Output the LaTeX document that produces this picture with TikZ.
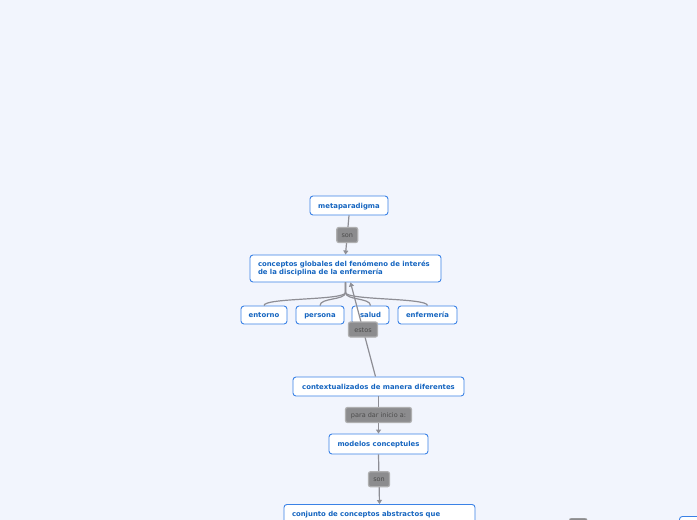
\documentclass[tikz,border=0pt]{standalone}
\usepackage{fontspec}
\setmainfont{DejaVu Sans}
\usetikzlibrary{arrows.meta}
\definecolor{bgblue}{HTML}{F2F5FD}
\definecolor{boxblue}{HTML}{3B82E6}
\definecolor{txtblue}{HTML}{1565C0}
\definecolor{lblgray}{HTML}{8C8C8E}
\definecolor{lnkgray}{HTML}{8E8E95}

\begin{document}
\begin{tikzpicture}[x=1pt,y=-1pt,
  topic/.style={draw=boxblue,fill=white,rounded corners=3pt,line width=0.9pt,text=txtblue,
    font=\fontsize{6.9}{8.2}\selectfont\bfseries,inner sep=0pt},
  leaf/.style={topic,text height=6pt,text depth=1pt},
  tag/.style={fill=lblgray,draw=lblgray!70,rounded corners=2pt,text=black!70,
    font=\fontsize{6.5}{7.5}\selectfont,inner sep=0pt,minimum height=15,text height=6pt,text depth=1pt},
  link/.style={draw=lnkgray,line width=1.2pt},
  arr/.style={link,-{Triangle[width=5pt,length=4pt]}}]
\fill[bgblue] (0,0) rectangle (697,520);
\clip (0,0) rectangle (697,520);

% main column
\node[leaf,minimum width=78,minimum height=19] (meta) at (349,205.5) {metaparadigma};
\node[topic,minimum width=191,minimum height=27,text width=175,align=left] (concept) at (345.5,268.5)
  {conceptos globales del fenómeno de interés\\de la disciplina de la enfermería};
\node[leaf,minimum width=171,minimum height=19] (context) at (378.5,386.5) {contextualizados de manera diferentes};
\node[leaf,minimum width=99,minimum height=20] (models) at (378.5,444) {modelos conceptules};
\node[topic,anchor=north,minimum width=191,minimum height=40,text width=175,align=left,text depth=22] (set) at (379.5,504)
  {conjunto de conceptos abstractos que};

% the four concepts
\node[leaf,minimum width=46,minimum height=18] (env) at (264,315) {entorno};
\node[leaf,minimum width=48,minimum height=18] (person) at (320,315) {persona};
\node[leaf,minimum width=37,minimum height=18] (health) at (370.5,315) {salud};
\node[leaf,minimum width=59,minimum height=18] (nursing) at (427.5,315) {enfermería};

\foreach \c in {env,person,health,nursing}
  \draw[link] (concept.south) -- ++(0,10) .. controls +(0,8) and +(0,-8) .. (\c.north);

% connectors with their tags
\draw[arr] (meta.south) -- node[tag,minimum width=21] (tagson) {son} (concept.north);
\draw[arr] ([xshift=-3]context.north) -- node[tag,minimum width=29,pos=0.5] (tagestos) {estos} ([xshift=5]concept.south);
\draw[arr] (context.south) -- node[tag,minimum width=66] (tagstart) {para dar inicio a:} (models.north);
\draw[arr] (models.south) -- node[tag,minimum width=21] (tagare) {son} (set.north);

% cut off at the lower edge
\node[tag,anchor=north west,minimum width=18] (tagcut) at (569,518) {};
\node[topic,anchor=north west,minimum width=40,minimum height=20] (boxcut) at (679,516) {};
\end{tikzpicture}
\end{document}
